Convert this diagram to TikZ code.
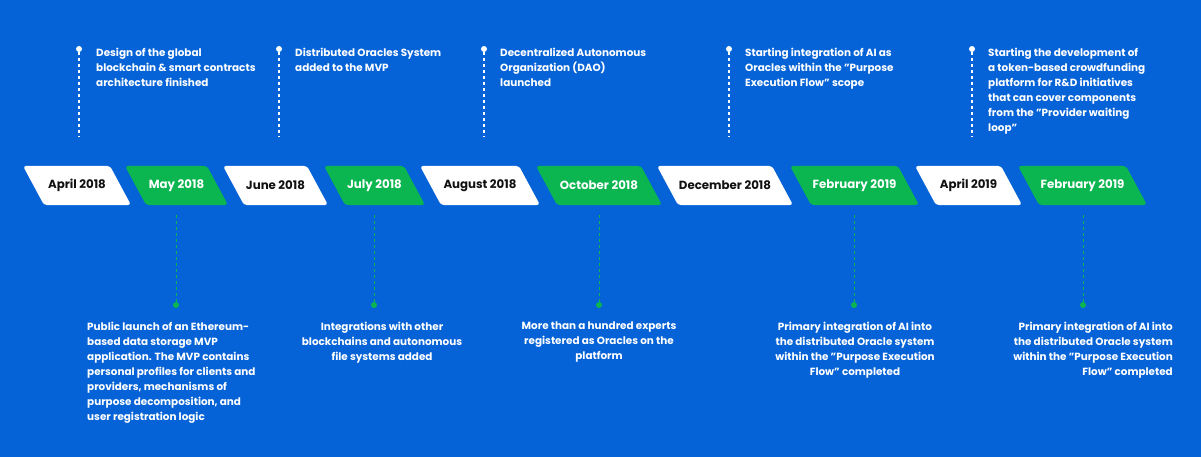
\documentclass[tikz,border=0pt]{standalone}
\usepackage{fontspec}
\setmainfont{Poppins}
\definecolor{bgblue}{HTML}{0563D7}
\definecolor{tlgreen}{HTML}{0BB54F}
\definecolor{datedark}{HTML}{111111}
\newcommand{\qq}{\symbol{34}}
\tikzset{
  toptext/.style={anchor=north west, align=left, text=white, font=\bfseries\fontsize{10.4}{15}\selectfont, inner sep=0pt},
  bottext/.style={anchor=north, text=white, font=\bfseries\fontsize{10.4}{15}\selectfont, inner sep=0pt},
  datetext/.style={font=\bfseries\fontsize{11.8}{12}\selectfont, inner sep=0pt},
  topdot/.style={circle, fill=white, inner sep=0pt, minimum size=6pt},
  botdot/.style={circle, fill=tlgreen, inner sep=0pt, minimum size=6pt},
  topline/.style={white, line width=1.1pt, dash pattern=on 3pt off 3pt},
  botline/.style={tlgreen, line width=0.8pt, dash pattern=on 3pt off 3pt},
}
\newcommand{\dbox}[6]{%
  \fill[#4, rounded corners=3pt] (#2,166) -- (#3,166) -- (#3+21,205) -- (#2+21,205) -- cycle;
  \node[datetext, text=#5] (#1) at ({(#2+#3)/2+10.5},185.5) {#6};
}
\begin{document}
\begin{tikzpicture}[x=1pt,y=-1pt]
\fill[bgblue] (0,0) rectangle (1201,457);
\useasboundingbox (0,0) rectangle (1201,457);

% date boxes
\dbox{d1}{23}{110}{white}{datedark}{April 2018}
\dbox{d2}{125}{207}{tlgreen}{white}{May 2018}
\dbox{d3}{223}{307}{white}{datedark}{June 2018}
\dbox{d4}{324}{404}{tlgreen}{white}{July 2018}
\dbox{d5}{420}{519}{white}{datedark}{August 2018}
\dbox{d6}{536}{641}{tlgreen}{white}{October 2018}
\dbox{d7}{657}{772}{white}{datedark}{December 2018}
\dbox{d8}{790}{898}{tlgreen}{white}{February 2019}
\dbox{d9}{915}{1001}{white}{datedark}{April 2019}
\dbox{d10}{1018}{1126}{tlgreen}{white}{February 2019}

% top events
\foreach \n/\x in {t1/79, t2/279, t3/484, t4/729, t5/972}{
  \node[topdot] (\n dot) at (\x,49) {};
  \coordinate (\n end) at (\x,137);
  \draw[topline] (\n dot) -- (\n end);
}
\node[toptext] (t1txt) at (96,48) {Design of the global\\blockchain \& smart contracts\\architecture finished};
\node[toptext] (t2txt) at (295,48) {Distributed Oracles System\\added to the MVP};
\node[toptext] (t3txt) at (500,48) {Decentralized Autonomous\\Organization (DAO)\\launched};
\node[toptext] (t4txt) at (745,48) {Starting integration of AI as\\Oracles within the \qq Purpose\\Execution Flow\qq{} scope};
\node[toptext] (t5txt) at (988,48) {Starting the development of\\a token-based crowdfunding\\platform for R\&D initiatives\\that can cover components\\from the \qq Provider waiting\\loop\qq};

% bottom events
\foreach \n/\x in {b1/176, b2/374, b3/599, b4/854, b5/1083}{
  \coordinate (\n start) at (\x,215);
  \node[botdot] (\n dot) at (\x,305) {};
  \draw[botline] (\n start) -- (\n dot);
}
\node[bottext, anchor=north west, align=left] (b1txt) at (87,322) {Public launch of an Ethereum-\\based data storage MVP\\application. The MVP contains\\personal profiles for clients and\\providers, mechanisms of\\purpose decomposition, and\\user registration logic};
\node[bottext, align=center] (b2txt) at (382,322) {Integrations with other\\blockchains and autonomous\\file systems added};
\node[bottext, align=center] (b3txt) at (599,322) {More than a hundred experts\\registered as Oracles on the\\platform};
\node[bottext, align=center] (b4txt) at (855,322) {Primary integration of AI into\\the distributed Oracle system\\within the \qq Purpose Execution\\Flow\qq{} completed};
\node[bottext, anchor=north east, align=right] (b5txt) at (1173,322) {Primary integration of AI into\\the distributed Oracle system\\within the \qq Purpose Execution\\Flow\qq{} completed};
\end{tikzpicture}
\end{document}
